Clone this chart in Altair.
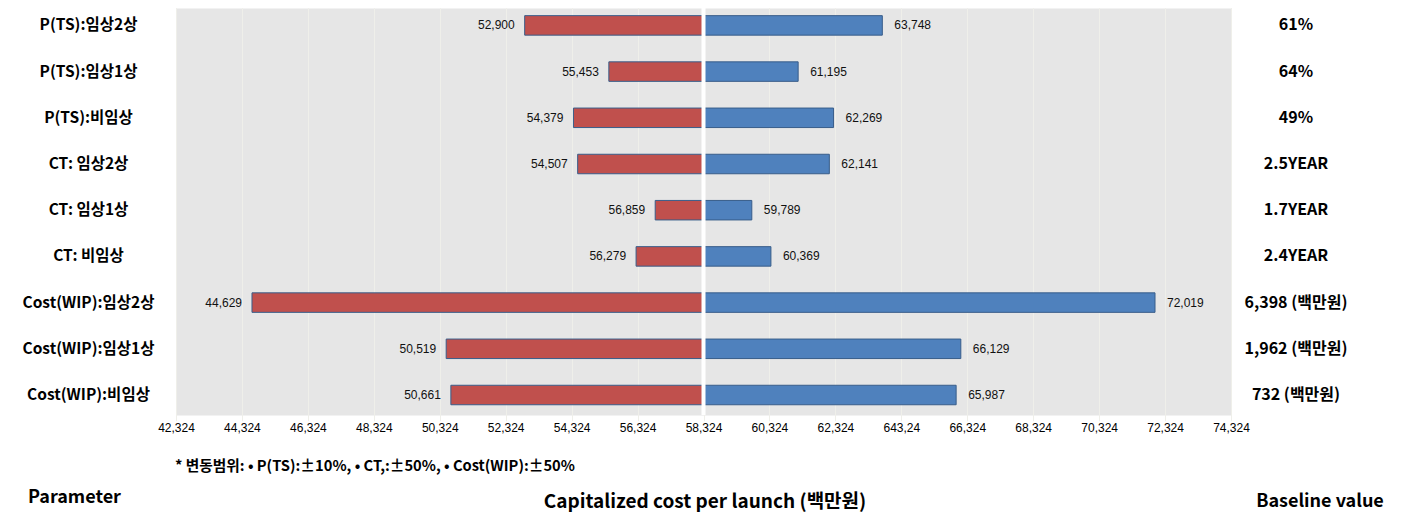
import altair as alt
import pandas as pd

# ---- data ----
params = ["P(TS):임상2상", "P(TS):임상1상", "P(TS):비임상",
          "CT: 임상2상", "CT: 임상1상", "CT: 비임상",
          "Cost(WIP):임상2상", "Cost(WIP):임상1상", "Cost(WIP):비임상"]
low_values = [52900, 55453, 54379, 54507, 56859, 56279, 44629, 50519, 50661]
high_values = [63748, 61195, 62269, 62141, 59789, 60369, 72019, 66129, 65987]
baseline_labels = ["61%", "64%", "49%", "2.5YEAR", "1.7YEAR", "2.4YEAR",
                   "6,398 (백만원)", "1,962 (백만원)", "732 (백만원)"]
base_value = 58324
tick_values = [42324, 44324, 46324, 48324, 50324, 52324, 54324, 56324, 58324,
               60324, 62324, 64324, 66324, 68324, 70324, 72324, 74324]
tick_labels = ["42,324", "44,324", "46,324", "48,324", "50,324", "52,324", "54,324",
               "56,324", "58,324", "60,324", "62,324", "643,24", "66,324", "68,324",
               "70,324", "72,324", "74,324"]
footnote = "* 변동범위:  • P(TS):±10%, • CT,:±50%, • Cost(WIP):±50%"
title_left = "Parameter"
title_center = "Capitalized cost per launch (백만원)"
title_right = "Baseline value"

# ---- tables ----
low_df = pd.DataFrame({"param": params, "value": low_values, "side": "low",
                       "base": base_value, "label": [f"{v:,}" for v in low_values]})
high_df = pd.DataFrame({"param": params, "value": high_values, "side": "high",
                        "base": base_value, "label": [f"{v:,}" for v in high_values]})
bars_df = pd.concat([low_df, high_df], ignore_index=True)
base_df = pd.DataFrame({"param": params, "baseline": baseline_labels})

label_expr = " : ".join(
    [f"datum.value == {v} ? '{l}'" for v, l in zip(tick_values, tick_labels)] + ["''"]
)

W, H = 1055, 407
KFONT = "Noto Sans CJK KR"
NFONT = "Liberation Sans"

x_scale = alt.Scale(domain=[tick_values[0], tick_values[-1]], nice=False, zero=False)
y_scale = alt.Scale(domain=params, range=[-5.7, 410.1], paddingInner=0, paddingOuter=0)

x_enc = alt.X("value:Q", scale=x_scale,
              axis=alt.Axis(values=tick_values, labelExpr=label_expr, title=None,
                            grid=True, gridColor="#efefea", gridWidth=1,
                            ticks=False, domain=False, labelFlush=False,
                            labelOverlap=False, labelFont=NFONT, labelFontSize=12,
                            labelColor="#000000", labelPadding=7))
y_enc = alt.Y("param:N", scale=y_scale, sort=params,
              axis=alt.Axis(title=None, ticks=False, domain=False, grid=False,
                            labelAlign="center", labelPadding=88, labelFont=KFONT,
                            labelFontSize=15.5, labelFontWeight="bold",
                            labelColor="#000000", labelLimit=0))

bars = alt.Chart(bars_df).mark_bar(height=19.5, stroke="#385d8a", strokeWidth=1).encode(
    x=x_enc, x2="base:Q", y=y_enc,
    color=alt.Color("side:N", scale=alt.Scale(domain=["low", "high"],
                                              range=["#c0504d", "#4f81bd"]),
                    legend=None),
)

mid = alt.Chart(pd.DataFrame({"v": [base_value]})).mark_rule(
    color="#ffffff", strokeWidth=4).encode(x=alt.X("v:Q", scale=x_scale))

low_text = alt.Chart(low_df).mark_text(align="right", dx=-10, font=NFONT,
                                       fontSize=12, color="#111111").encode(
    x=alt.X("value:Q", scale=x_scale), y=alt.Y("param:N", scale=y_scale, sort=params),
    text="label:N")
high_text = alt.Chart(high_df).mark_text(align="left", dx=12, font=NFONT,
                                         fontSize=12, color="#111111").encode(
    x=alt.X("value:Q", scale=x_scale), y=alt.Y("param:N", scale=y_scale, sort=params),
    text="label:N")

right_text = alt.Chart(base_df).mark_text(align="center", font=KFONT, fontSize=16,
                                          fontWeight="bold", color="#000000").encode(
    x=alt.value(1120), y=alt.Y("param:N", scale=y_scale, sort=params),
    text="baseline:N")

def free_text(txt, x, y, size, align, weight="bold"):
    return alt.Chart(pd.DataFrame({"t": [txt]})).mark_text(
        align=align, baseline="middle", font=KFONT, fontSize=size,
        fontWeight=weight, color="#000000").encode(
        x=alt.value(x), y=alt.value(y), text="t:N")

foot = free_text(footnote, -1, 459, 14.7, "left")
t_left = free_text(title_left, -148, 490, 18, "left")
t_center = free_text(title_center, 529, 494, 19, "center")
t_right = free_text(title_right, 1144, 494, 18, "center")

chart = alt.layer(bars, mid, low_text, high_text, right_text,
                  foot, t_left, t_center, t_right).properties(
    width=W, height=H,
    autosize=alt.AutoSizeParams(type="none"),
    padding={"left": 168, "top": 0, "right": 171, "bottom": 99},
).configure_view(fill="#e6e6e6", stroke="transparent")

chart.save("out.html", embed_options={"renderer": "svg", "actions": False})
